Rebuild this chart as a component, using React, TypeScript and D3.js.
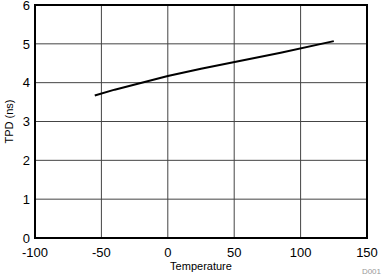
import React from "react";
import * as d3 from "d3";

const temps = [-55, -40, 0, 25, 85, 125];
const tpd = [3.67, 3.82, 4.17, 4.36, 4.77, 5.07];
const xTicks = [-100, -50, 0, 50, 100, 150];
const yTicks = [0, 1, 2, 3, 4, 5, 6];

export default function App() {
  const W = 383, H = 276;
  const m = { l: 35, r: 16, t: 5, b: 38 };
  const x = d3.scaleLinear().domain([-100, 150]).range([m.l, W - m.r]);
  const y = d3.scaleLinear().domain([0, 6]).range([H - m.b, m.t]);
  const line = d3
    .line<number>()
    .x((_, i) => x(temps[i]))
    .y((d) => y(d));
  const font = "'Liberation Sans', Arial, sans-serif";
  return (
    <svg
      width={W}
      height={H}
      style={{ position: "absolute", left: 0, top: 0, display: "block" }}
      fontFamily={font}
    >
      <rect width={W} height={H} fill="#fff" />
      {xTicks.slice(1, -1).map((t) => (
        <line key={"gx" + t} x1={x(t)} x2={x(t)} y1={y(6)} y2={y(0)} stroke="#444" strokeWidth={1} />
      ))}
      {yTicks.slice(1, -1).map((t) => (
        <line key={"gy" + t} x1={x(-100)} x2={x(150)} y1={y(t)} y2={y(t)} stroke="#444" strokeWidth={1} />
      ))}
      <rect
        x={x(-100)}
        y={y(6)}
        width={x(150) - x(-100)}
        height={y(0) - y(6)}
        fill="none"
        stroke="#000"
        strokeWidth={2}
      />
      <path d={line(tpd) || ""} fill="none" stroke="#000" strokeWidth={2} />
      {xTicks.map((t) => (
        <text key={"tx" + t} x={x(t)} y={256.5} fontSize={13} textAnchor="middle" fill="#000">
          {t}
        </text>
      ))}
      {yTicks.map((t) => (
        <text key={"ty" + t} x={30} y={y(t)} dy="0.36em" fontSize={13} textAnchor="end" fill="#000">
          {t}
        </text>
      ))}
      <text x={(x(-100) + x(150)) / 2} y={270} fontSize={11} textAnchor="middle" fill="#000">
        Temperature
      </text>
      <text
        transform={`translate(12.5,${(y(0) + y(6)) / 2}) rotate(-90)`}
        fontSize={11}
        textAnchor="middle"
        fill="#000"
      >
        TPD (ns)
      </text>
      <text x={381} y={274} fontSize={8} textAnchor="end" fill="#999">
        D001
      </text>
    </svg>
  );
}
